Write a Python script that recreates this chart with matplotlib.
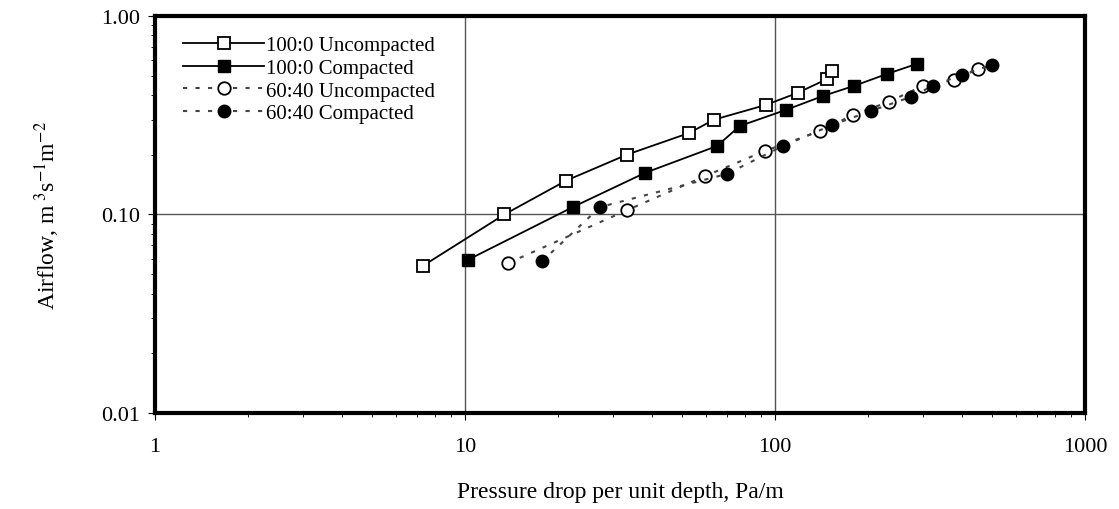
import matplotlib.pyplot as plt

plt.rcParams['font.family'] = ['Liberation Serif', 'DejaVu Serif']
plt.rcParams['mathtext.fontset'] = 'stix'

# 100:0 Uncompacted
unc100_x = [7.3, 13.4, 21.2, 33.3, 52.8, 63.6, 93.5, 118.6, 147, 153]
unc100_y = [0.055, 0.10, 0.148, 0.20, 0.257, 0.30, 0.356, 0.41, 0.48, 0.53]
# 100:0 Compacted
com100_x = [10.2, 22.3, 38.1, 65, 77.1, 108.5, 143, 180, 230, 287]
com100_y = [0.059, 0.109, 0.162, 0.221, 0.279, 0.336, 0.395, 0.444, 0.51, 0.573]
# 60:40 Uncompacted
unc60_x = [13.8, 33.3, 59.5, 92.9, 140, 178.5, 233, 300, 378, 452]
unc60_y = [0.057, 0.105, 0.156, 0.209, 0.263, 0.317, 0.369, 0.444, 0.476, 0.54]
# 60:40 Compacted
com60_x = [17.7, 27.3, 70, 106, 153, 204, 275, 323, 401, 501]
com60_y = [0.058, 0.109, 0.16, 0.221, 0.282, 0.332, 0.391, 0.444, 0.505, 0.566]

fig = plt.figure(figsize=(11.19, 5.10), dpi=100)
ax = fig.add_axes([0.1385, 0.188, 0.831, 0.779])

ms = 9
ax.plot(unc100_x, unc100_y, '-', color='black', lw=1.3, marker='s', ms=ms,
        mfc='white', mec='black', mew=1.3, label='100:0 Uncompacted')
ax.plot(com100_x, com100_y, '-', color='black', lw=1.3, marker='s', ms=ms,
        mfc='black', mec='black', label='100:0 Compacted')
ax.plot(unc60_x, unc60_y, color='#444444', ls=(0, (2, 4)), lw=1.5, marker='o', ms=ms,
        mfc='white', mec='black', mew=1.3, label='60:40 Uncompacted')
ax.plot(com60_x, com60_y, color='#444444', ls=(0, (2, 4)), lw=1.5, marker='o', ms=ms,
        mfc='black', mec='black', label='60:40 Compacted')

ax.set_xscale('log')
ax.set_yscale('log')
ax.set_xlim(1, 1000)
ax.set_ylim(0.01, 1.0)
ax.set_xticks([1, 10, 100, 1000])
ax.set_xticklabels(['1', '10', '100', '1000'])
ax.set_yticks([0.01, 0.1, 1.0])
ax.set_yticklabels(['0.01', '0.10', '1.00'])
ax.grid(True, which='major', color='#555555', lw=1.0)
ax.tick_params(axis='both', which='major', labelsize=16, length=5)
ax.tick_params(axis='x', which='major', pad=12)
ax.tick_params(axis='y', which='major', pad=6)
ax.tick_params(axis='both', which='minor', length=3)
for s in ax.spines.values():
    s.set_linewidth(3)

ax.set_xlabel('Pressure drop per unit depth, Pa/m', fontsize=17, labelpad=18)
ax.set_ylabel('Airflow, m$^{\\ 3}$s$^{-1}$m$^{-2}$', fontsize=17, labelpad=28)

ax.legend(loc='upper left', frameon=False, fontsize=15, handlelength=3.9,
          bbox_to_anchor=(0.01, 0.997), labelspacing=0.15, handletextpad=0.1)

fig.savefig('out.png', dpi=100)
